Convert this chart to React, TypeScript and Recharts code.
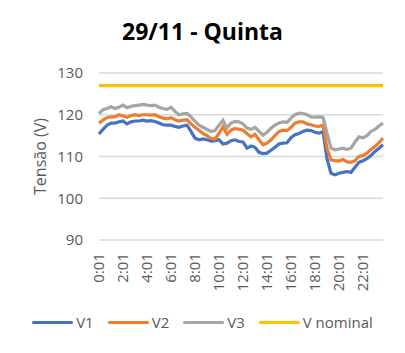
import { CartesianGrid, Line, LineChart, XAxis, YAxis } from 'recharts';

// leituras a cada 20 min, começando em 0:01
const STEP_MIN = 20;
const TIMES = Array.from({ length: 72 }, (_, i) => {
  const m = i * STEP_MIN + 1;
  return `${Math.floor(m / 60)}:${String(m % 60).padStart(2, '0')}`;
});

const V1 = [
  115.4, 116.5, 117.5, 118, 118, 118.3, 118.5, 117.8, 118.3, 118.5, 118.5, 118.7,
  118.5, 118.6, 118.4, 118, 117.6, 117.5, 117.5, 117.2, 117, 117.3, 117.5, 116,
  114.4, 114, 114.2, 114, 113.7, 113.8, 114, 113, 113.2, 113.8, 114, 113.6,
  113.5, 112, 112.5, 112.2, 111, 110.7, 110.8, 111.5, 112.2, 113, 113.2, 113.3,
  114.5, 115.2, 115.5, 116, 116.3, 116.2, 115.8, 115.6, 116, 109.5, 106, 105.6,
  106, 106.2, 106.4, 106.2, 107.4, 108.6, 109, 109.5, 110.2, 111.2, 112, 112.8,
];
const V2 = [
  118, 118.7, 119.3, 119.5, 119.5, 120, 119.7, 119.4, 119.8, 120, 119.8, 120,
  120, 119.9, 120, 119.5, 119.2, 119, 119.3, 118.8, 118.5, 118.7, 118.8, 117.8,
  117, 116.3, 115.5, 115, 114.3, 114.2, 115.5, 117.1, 115.3, 116.3, 116.7, 116.5,
  116.3, 115.5, 114.7, 115.3, 114, 112.8, 113.2, 114, 115, 116, 116.3, 116.2,
  117, 118, 118.3, 118.3, 117.8, 117.6, 117.3, 117.2, 117.5, 112, 109.2, 109,
  108.9, 109.3, 108.7, 108.6, 109, 110, 110.2, 110.8, 111.7, 112.4, 113.3, 114.4,
];
const V3 = [
  120.3, 121.2, 121.5, 121.9, 121.5, 121.8, 122.3, 121.7, 122, 122.2, 122.3, 122.5,
  122.3, 122.2, 122.3, 121.8, 121.5, 121.3, 121.8, 120.8, 120, 120.2, 120.3, 119.5,
  118.5, 117.5, 117, 116.5, 116, 116.2, 117.5, 118.7, 116.8, 118, 118.4, 118.3,
  117.8, 116.8, 116.5, 117, 116, 115.1, 115.8, 116.8, 117.5, 118, 118.3, 118.2,
  119.2, 120, 120.4, 120.3, 120, 119.5, 119.4, 119.5, 119.4, 115.6, 112, 111.6,
  111.8, 112, 111.7, 112, 113.5, 114.7, 114.5, 115, 116, 116.5, 117.3, 118,
];
const V_NOMINAL = 127;

const Y_TICKS = [90, 100, 110, 120, 130];

const SERIES = [
  { key: 'v1', name: 'V1', color: '#4472C4' },
  { key: 'v2', name: 'V2', color: '#ED7D31' },
  { key: 'v3', name: 'V3', color: '#A5A5A5' },
  { key: 'nominal', name: 'V nominal', color: '#FFC000' },
];

const data = TIMES.map((t, i) => ({ time: t, v1: V1[i], v2: V2[i], v3: V3[i], nominal: V_NOMINAL }));

const FONT = '"Open Sans", sans-serif';
const TEXT = '#595959';

function TimeTick(props: any) {
  const { x, y, payload } = props;
  return (
    <text
      x={x}
      y={y + 5}
      transform={`rotate(-90, ${x}, ${y + 5})`}
      textAnchor="end"
      dy="0.35em"
      fill={TEXT}
      fontSize={15}
      fontFamily={FONT}
    >
      {payload.value}
    </text>
  );
}

export default function App() {
  return (
    <div style={{ position: 'absolute', left: 0, top: 0, width: 405, height: 353, background: '#fff', fontFamily: FONT }}>
      <div style={{ position: 'absolute', top: 16, left: 0, width: 405, textAlign: 'center', fontSize: 23, fontWeight: 700, color: '#000', lineHeight: '30px' }}>
        29/11 - Quinta
      </div>
      <LineChart width={405} height={353} data={data} margin={{ top: 73, right: 22, left: 0, bottom: 0 }}>
        <CartesianGrid vertical={false} stroke="#d9d9d9" strokeWidth={1.3} />
        <XAxis
          dataKey="time"
          interval={5}
          height={113}
          axisLine={false}
          tickLine={false}
          tick={<TimeTick />}
        />
        <YAxis
          domain={[90, 130]}
          ticks={Y_TICKS}
          width={99}
          axisLine={false}
          tickLine={false}
          tickMargin={10}
          tick={{ fill: TEXT, fontSize: 15, fontFamily: FONT }}
          label={{
            value: 'Tensão (V)',
            angle: -90,
            position: 'insideLeft',
            offset: 40,
            style: { textAnchor: 'middle', fill: TEXT, fontSize: 16, fontFamily: FONT },
          }}
        />
        {SERIES.map((s) => (
          <Line
            key={s.key}
            type="linear"
            dataKey={s.key}
            name={s.name}
            stroke={s.color}
            strokeWidth={3.2}
            dot={false}
            isAnimationActive={false}
          />
        ))}
      </LineChart>
      <div style={{ position: 'absolute', top: 311, left: 0, width: 405, display: 'flex', justifyContent: 'center', gap: 14, fontSize: 15, color: TEXT, lineHeight: '22px' }}>
        {SERIES.map((s) => (
          <div key={s.key} style={{ display: 'flex', alignItems: 'center' }}>
            <span style={{ display: 'inline-block', width: 41, height: 3, borderRadius: 2, background: s.color, marginRight: 3 }} />
            {s.name}
          </div>
        ))}
      </div>
    </div>
  );
}
